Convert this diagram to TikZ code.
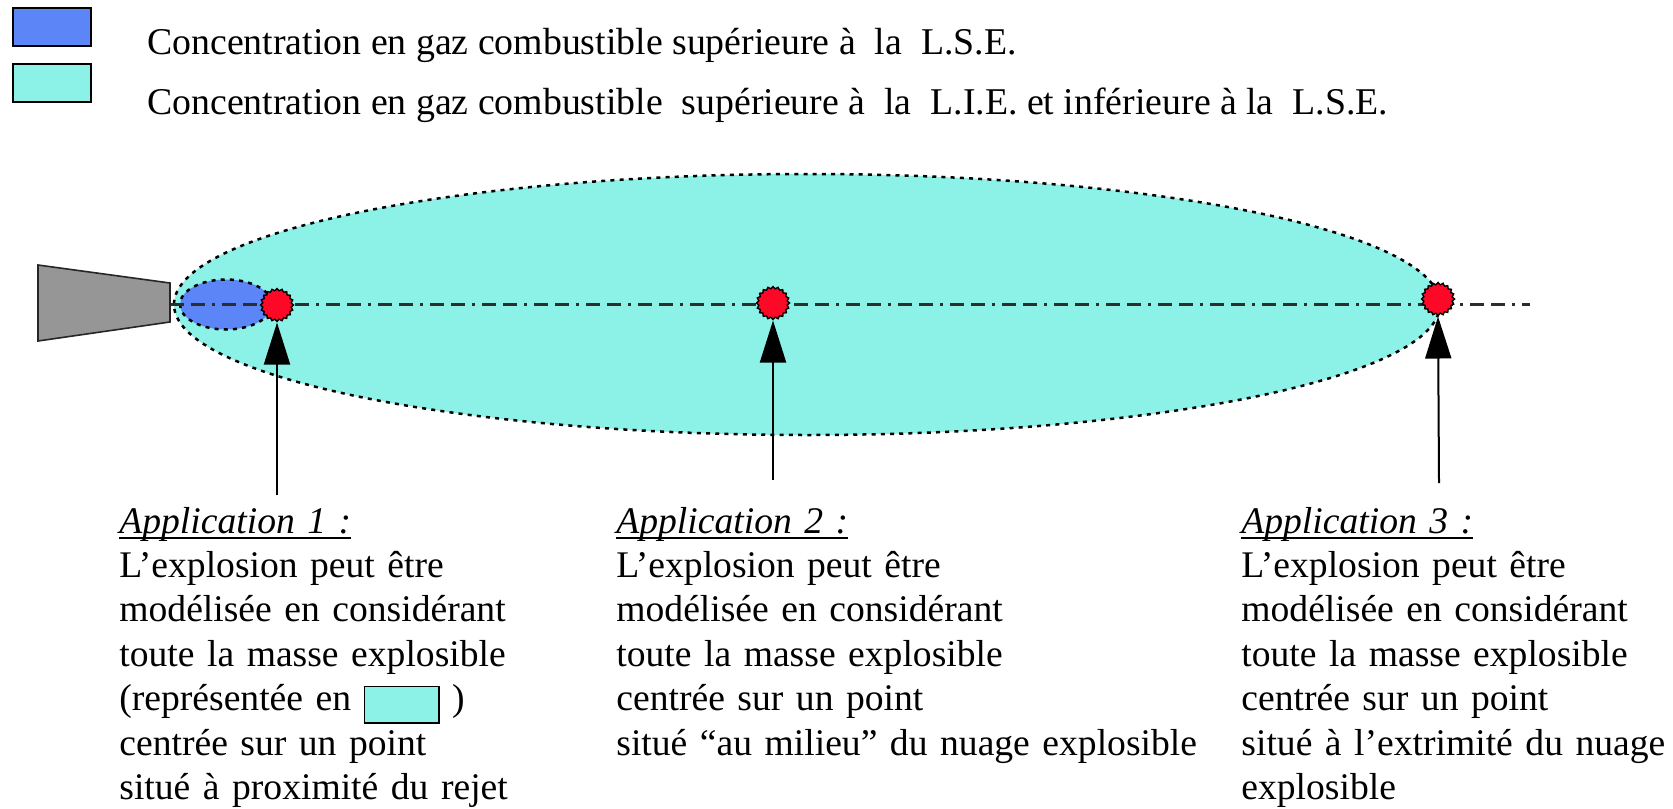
\documentclass[tikz,border=0pt]{standalone}
\usepackage{fontspec}
\setmainfont{Liberation Serif}
\usetikzlibrary{shapes.geometric,arrows.meta}
\definecolor{lseblue}{RGB}{92,134,247}
\definecolor{liecyan}{RGB}{140,242,232}
\definecolor{dotred}{RGB}{255,8,40}
\definecolor{nozgray}{RGB}{150,150,150}
\definecolor{axisgray}{RGB}{45,45,45}
\newcommand\appul[1]{\setbox0\hbox{#1}\rlap{\rule[-3pt]{\wd0}{0.9pt}}\box0}
\newcommand\cyankey{{\setlength\fboxrule{0.9pt}\setlength\fboxsep{0pt}\fcolorbox{black}{liecyan}{\rule[-5.6pt]{0pt}{17.2pt}\hspace{36.2pt}}}}
\begin{document}
\begin{tikzpicture}[x=0.5pt,y=-0.5pt,
  legkey/.style={draw=black,line width=0.9pt,minimum width=39pt,minimum height=19pt,inner sep=0pt},
  legtext/.style={anchor=base west,inner sep=0pt,font=\fontsize{18.9pt}{22.2pt}\selectfont},
  apptext/.style={anchor=base west,inner sep=0pt,text width=320pt,align=left,font=\fontsize{18.8pt}{22.2pt}\selectfont},
  cloud/.style={draw=black,line width=1.25pt,dash pattern=on 2pt off 2.6pt},
  nozzle/.style={draw=black!85,line width=0.8pt,fill=nozgray},
  axisline/.style={draw=axisgray,line width=1.1pt,dash pattern=on 7pt off 3.5pt on 7pt off 3.5pt on 1.5pt off 3.5pt},
  hotspot/.style={star,star points=20,star point ratio=1.15,minimum size=16.5pt,inner sep=0pt,fill=dotred,draw=black,line width=0.7pt},
  pointer/.style={draw=black,line width=1pt,-{Triangle[width=13pt,length=21pt]}}
]
\useasboundingbox (0,0) rectangle (1673,808);
% legend
\node[legkey,fill=lseblue] (k1) at (52,27) {};
\node[legkey,fill=liecyan] (k2) at (52,83) {};
\node[legtext] (t1) at (147,55) {Concentration en gaz combustible supérieure à\ \ la\ \ L.S.E.};
\node[legtext] (t2) at (147,114) {Concentration en gaz combustible\ \ supérieure à\ \ la\ \ L.I.E. et inférieure à la\ \ L.S.E.};
% clouds
\draw[cloud,fill=liecyan] (807,304.5) ellipse [x radius=633, y radius=130.5];
\draw[cloud,fill=lseblue] (226,304.5) ellipse [x radius=46, y radius=25];
% axis
\coordinate (axs) at (170,304.5);
\coordinate (axe) at (1530,304.5);
\draw[axisline] (axs) -- (axe);
% nozzle
\draw[nozzle] (38,265) -- (170,283) -- (170,322) -- (38,341) -- cycle;
% arrows and points
\node[hotspot] (d1) at (277,305) {};
\node[hotspot] (d2) at (773,303) {};
\node[hotspot] (d3) at (1438,299) {};
\coordinate (b1) at (277,495);
\coordinate (b2) at (773,480);
\coordinate (b3) at (1439,483);
\draw[pointer] (b1) -- (d1.south);
\draw[pointer] (b2) -- (d2.south);
\draw[pointer] (b3) -- (d3.south);
% texts
\node[apptext] (a1) at (119,533) {\appul{\itshape Application 1 :}\\
L’explosion peut être\\
modélisée en considérant\\
toute la masse explosible\\
(représentée en \cyankey\ )\\
centrée sur un point\\
situé à proximité du rejet};
\node[apptext] (a2) at (616,533) {\appul{\itshape Application 2 :}\\
L’explosion peut être\\
modélisée en considérant\\
toute la masse explosible\\
centrée sur un point\\
situé “au milieu” du nuage explosible};
\node[apptext] (a3) at (1241,533) {\appul{\itshape Application 3 :}\\
L’explosion peut être\\
modélisée en considérant\\
toute la masse explosible\\
centrée sur un point\\
situé à l’extrimité du nuage\\
explosible};
\end{tikzpicture}
\end{document}
